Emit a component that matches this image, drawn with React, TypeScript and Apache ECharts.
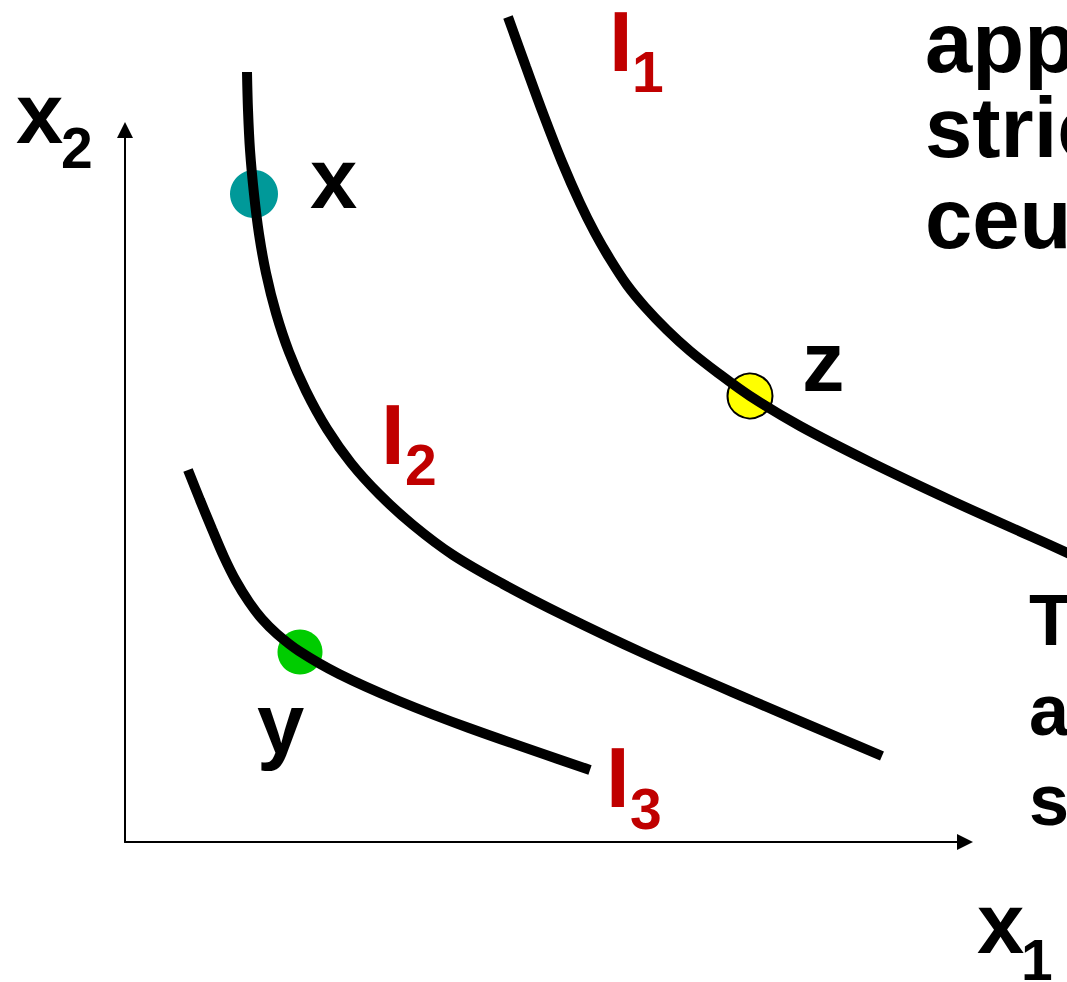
import React, { useEffect, useRef } from "react";
import * as echarts from "echarts";

// Curves in chart units: x1 to the right of the origin, x2 up from the origin
const curveI1: number[][] = [
  [383, 825], [401, 775], [419, 726], [437, 680], [455, 639], [470, 609],
  [485, 583], [502, 557], [520, 535], [542, 512], [565, 491], [593, 469],
  [625, 446], [675, 416], [745, 380], [825, 342], [905, 306], [945, 288],
];
const curveI2: number[][] = [
  [122, 770], [123, 732], [125, 692], [129, 648], [134, 608], [141, 569],
  [151, 529], [164, 490], [181, 451], [202, 413], [226, 379], [254, 348],
  [288, 317], [328, 287], [378, 258], [438, 227], [518, 189], [628, 141],
  [757, 86],
];
const curveI3: number[][] = [
  [63, 372], [75, 342], [87, 313], [99, 285], [111, 261], [124, 240],
  [137, 223], [152, 208], [174, 191], [214, 168], [274, 141], [344, 114],
  [465, 72],
];
const pointX: number[][] = [[129, 648]];
const pointY: number[][] = [[175, 190]];
const pointZ: number[][] = [[625, 446]];

const topText = ["appa", "stric", "ceux"];
const bottomText = ["T", "a", "s"];

const FONT = '"Liberation Sans", Arial, Helvetica, sans-serif';
const RED = "#C00000";

function txt(text: string, x: number, baseline: number, size: number, color: string) {
  return {
    type: "text",
    x,
    y: baseline - size * 0.35,
    silent: true,
    style: {
      text,
      fill: color,
      fontFamily: FONT,
      fontWeight: "bold",
      fontSize: size,
      lineHeight: Math.round(size * 0.9),
      verticalAlign: "middle",
      align: "left",
    },
  };
}

export default function App() {
  const ref = useRef<HTMLDivElement>(null);
  useEffect(() => {
    if (!ref.current) return;
    const chart = echarts.init(ref.current, null, { renderer: "svg" });
    const BIG = 85;
    const SUB = 57;
    const graphics: any[] = [
      txt("x", 16, 143, BIG, "#000"),
      txt("2", 61, 168, SUB, "#000"),
      txt("x", 977, 953, BIG, "#000"),
      txt("1", 1021, 980, SUB, "#000"),
      txt("x", 310, 208, BIG, "#000"),
      txt("z", 802, 391, BIG, "#000"),
      txt("y", 257, 753, BIG, "#000"),
      txt("I", 609, 71, BIG, RED),
      txt("1", 632, 92, SUB, RED),
      txt("I", 381, 464, BIG, RED),
      txt("2", 405, 485, SUB, RED),
      txt("I", 606, 807, BIG, RED),
      txt("3", 630, 829, SUB, RED),
    ];
    const topBase = [72, 157, 248];
    topText.forEach((t, i) => graphics.push(txt(t, 925, topBase[i], BIG, "#000")));
    const botBase = [645, 735, 825];
    bottomText.forEach((t, i) => graphics.push(txt(t, 1029, botBase[i], 72, "#000")));

    const lineSeries = (data: number[][]) => ({
      type: "line",
      xAxisIndex: 1,
      yAxisIndex: 1,
      data,
      smooth: 0.35,
      symbol: "none",
      showSymbol: false,
      clip: false,
      silent: true,
      lineStyle: { color: "#000", width: 10, cap: "butt" },
    });
    const dot = (data: number[][], color: string, size: number, border: number) => ({
      type: "scatter",
      xAxisIndex: 1,
      yAxisIndex: 1,
      data,
      symbolSize: size,
      clip: false,
      silent: true,
      itemStyle: { color, borderColor: "#000", borderWidth: border, opacity: 1 },
    });
    const hiddenAxis = (max: number, grid: number) => ({
      type: "value",
      gridIndex: grid,
      min: 0,
      max,
      show: false,
    });
    const arrowAxis = (max: number) => ({
      type: "value",
      gridIndex: 0,
      min: 0,
      max,
      axisLine: {
        show: true,
        symbol: ["none", "triangle"],
        symbolSize: [16, 16],
        lineStyle: { color: "#000", width: 2 },
      },
      axisTick: { show: false },
      axisLabel: { show: false },
      splitLine: { show: false },
    });

    chart.setOption({
      animation: false,
      backgroundColor: "#ffffff",
      grid: [
        { left: 125, top: 130, right: 1067 - 965, bottom: 982 - 842 },
        { left: 125, top: 0, right: 0, bottom: 982 - 842 },
      ],
      xAxis: [arrowAxis(840), hiddenAxis(942, 1)],
      yAxis: [arrowAxis(712), hiddenAxis(842, 1)],
      series: [
        { type: "line", xAxisIndex: 0, yAxisIndex: 0, data: [], silent: true },
        lineSeries(curveI1),
        lineSeries(curveI2),
        lineSeries(curveI3),
        dot(pointX, "#009999", 48, 0),
        dot(pointY, "#00CC00", 45, 0),
        dot(pointZ, "#FFFF00", 45, 2),
      ],
      graphic: graphics,
    });
    return () => chart.dispose();
  }, []);
  return (
    <div
      ref={ref}
      style={{ position: "fixed", left: 0, top: 0, width: 1067, height: 982, background: "#fff" }}
    />
  );
}
